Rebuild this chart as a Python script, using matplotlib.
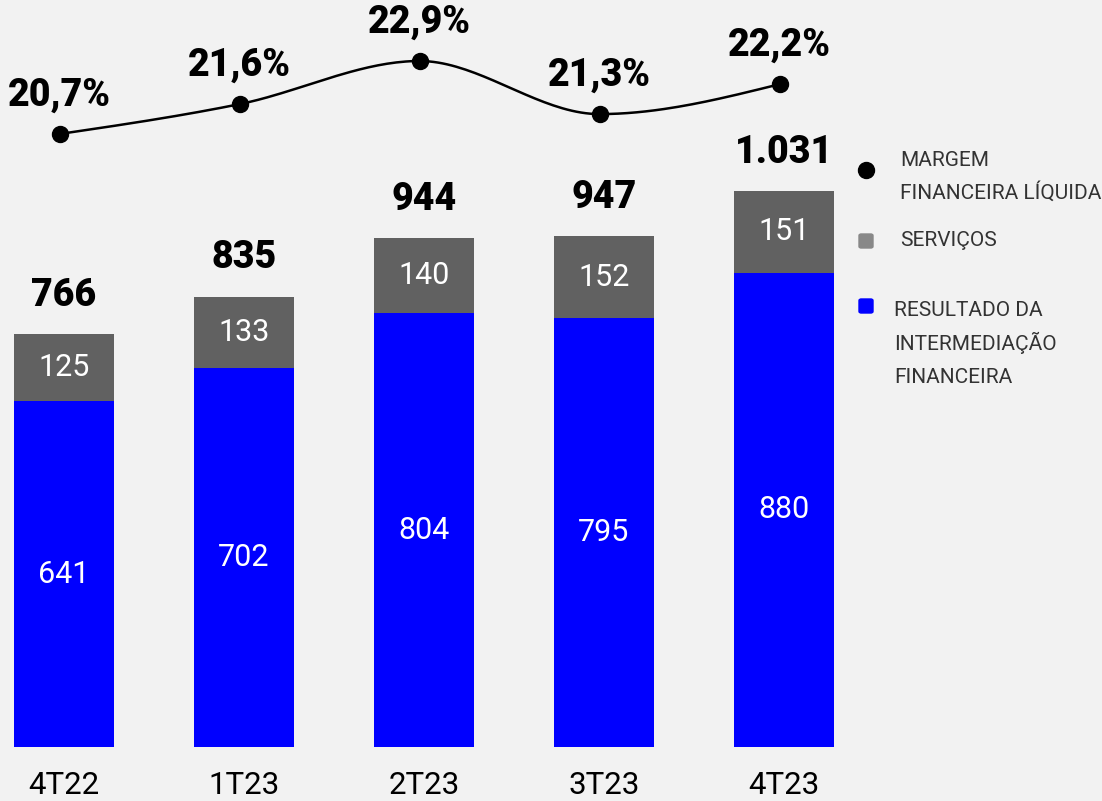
import numpy as np
import matplotlib
matplotlib.use('Agg')
import matplotlib.pyplot as plt
from matplotlib.lines import Line2D
from matplotlib.patches import FancyBboxPatch

plt.rcParams['font.family'] = ['Roboto', 'DejaVu Sans']

quarters = ['4T22', '1T23', '2T23', '3T23', '4T23']
intermediacao = [641, 702, 804, 795, 880]
servicos = [125, 133, 140, 152, 151]
totais = ['766', '835', '944', '947', '1.031']
margem = [20.7, 21.6, 22.9, 21.3, 22.2]
margem_labels = ['20,7%', '21,6%', '22,9%', '21,3%', '22,2%']

BLUE = '#0000ff'
GRAY = '#616161'
BG = '#f2f2f2'


def monotone_curve(x, y, n=40):
    # monotone cubic (same idea as d3 curveMonotoneX), only for drawing the line
    x = np.asarray(x, float)
    y = np.asarray(y, float)
    h = np.diff(x)
    s = np.diff(y) / h
    t = np.zeros_like(y)
    for i in range(1, len(y) - 1):
        p = (s[i - 1] * h[i] + s[i] * h[i - 1]) / (h[i - 1] + h[i])
        t[i] = (np.sign(s[i - 1]) + np.sign(s[i])) * min(abs(s[i - 1]), abs(s[i]), 0.5 * abs(p))
    t[0] = (3 * s[0] - t[1]) / 2
    t[-1] = (3 * s[-1] - t[-2]) / 2
    xs, ys = [], []
    for i in range(len(h)):
        u = np.linspace(0, 1, n)
        h00 = 2 * u**3 - 3 * u**2 + 1
        h10 = u**3 - 2 * u**2 + u
        h01 = -2 * u**3 + 3 * u**2
        h11 = u**3 - u**2
        xs.append(x[i] + u * h[i])
        ys.append(h00 * y[i] + h10 * h[i] * t[i] + h01 * y[i + 1] + h11 * h[i] * t[i + 1])
    return np.concatenate(xs), np.concatenate(ys)


fig = plt.figure(figsize=(11.02, 8.01), dpi=100)
fig.patch.set_facecolor(BG)
ax = fig.add_axes([0, 0, 1, 1])
ax.set_facecolor(BG)

x = np.arange(len(quarters))
ax.bar(x, intermediacao, width=0.555, color=BLUE)
ax.bar(x, servicos, width=0.555, bottom=intermediacao, color=GRAY)

for i in range(len(x)):
    ax.text(x[i], intermediacao[i] / 2, str(intermediacao[i]), ha='center', va='center',
            color='white', fontsize=22)
    ax.text(x[i], intermediacao[i] + servicos[i] / 2, str(servicos[i]), ha='center', va='center',
            color='white', fontsize=22)
    ax.annotate(totais[i], (x[i], intermediacao[i] + servicos[i]), xytext=(0, 28),
                textcoords='offset points', ha='center', va='center',
                fontsize=27, fontweight='black', color='black')
    ax.text(x[i], -72, quarters[i], ha='center', va='center', fontsize=22.5, color='black')

ax.set_xlim(-64 / 180, (1102 - 64) / 180)
ax.set_ylim(-54 / 0.5392, (801 - 54) / 0.5392)
ax.axis('off')

ax2 = ax.twinx()
ax2.set_ylim(20.7 - 667 / 33.18, 20.7 + 134 / 33.18)
ax2.axis('off')
cx, cy = monotone_curve(x, margem)
ax2.plot(cx - 0.025, cy, color='black', linewidth=1.8)
ax2.plot(x - 0.025, margem, 'o', color='black', markersize=11.5)
for i in range(len(x)):
    ax2.annotate(margem_labels[i], (x[i] - 0.025, margem[i]), xytext=(0, 28),
                 textcoords='offset points', ha='center', va='center',
                 fontsize=27, fontweight='black', color='black')

# legend drawn by hand, positions in figure pixels
W, H = 1102, 801
def fx(px):
    return px / W
def fy(py):
    return 1 - py / H

fig.lines.append(Line2D([fx(866)], [fy(170)], marker='o', markersize=11.5, color='black',
                        transform=fig.transFigure, figure=fig))
fig.text(fx(900), fy(160), 'MARGEM', fontsize=15, color='#333333', va='center')
fig.text(fx(900), fy(192), 'FINANCEIRA LÍQUIDA', fontsize=15, color='#333333', va='center')

fig.patches.append(FancyBboxPatch((fx(859), fy(248)), 14 / W, 14 / H,
                                  boxstyle='round,pad=0,rounding_size=0.002',
                                  color='#888888', transform=fig.transFigure, figure=fig))
fig.text(fx(900), fy(241), 'SERVIÇOS', fontsize=15, color='#333333', va='center')

fig.patches.append(FancyBboxPatch((fx(859), fy(313)), 14 / W, 14 / H,
                                  boxstyle='round,pad=0,rounding_size=0.002',
                                  color=BLUE, transform=fig.transFigure, figure=fig))
fig.text(fx(894), fy(310), 'RESULTADO DA', fontsize=15, color='#333333', va='center')
fig.text(fx(894), fy(343), 'INTERMEDIAÇÃO', fontsize=15, color='#333333', va='center')
fig.text(fx(894), fy(377), 'FINANCEIRA', fontsize=15, color='#333333', va='center')

fig.savefig('out.png', dpi=100, facecolor=BG)
